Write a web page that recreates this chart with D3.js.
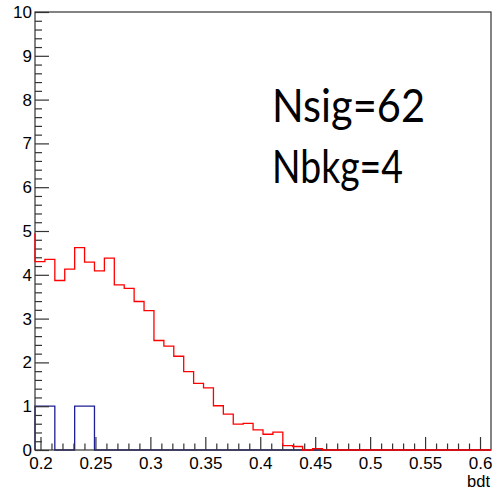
<!DOCTYPE html>
<html>
<head>
<meta charset="utf-8">
<script src="https://cdn.jsdelivr.net/npm/d3@7"></script>
<style>
  html, body { margin: 0; padding: 0; background: #fff; }
  svg { display: block; }
</style>
</head>
<body>
<svg id="chart" width="497" height="493"></svg>
<script>
// ---- data ----
const xMin = 0.195, xMax = 0.61, nBins = 46;
const sigValues = [4.30, 4.35, 3.87, 4.13, 4.62, 4.29, 4.09, 4.38, 3.77, 3.69,
                   3.39, 3.18, 2.50, 2.37, 2.14, 1.79, 1.52, 1.42, 1.01, 0.82,
                   0.59, 0.61, 0.46, 0.36, 0.41, 0.10, 0.08, 0.00, 0.03, 0,
                   0, 0, 0, 0, 0, 0, 0, 0, 0, 0,
                   0, 0, 0, 0, 0, 0];
const sigPrevBin = 4.95;
const bkgValues = [1, 1, 0, 0, 1, 1, 0, 0, 0, 0,
                   0, 0, 0, 0, 0, 0, 0, 0, 0, 0,
                   0, 0, 0, 0, 0, 0, 0, 0, 0, 0,
                   0, 0, 0, 0, 0, 0, 0, 0, 0, 0,
                   0, 0, 0, 0, 0, 0];
const xTicks = [0.2, 0.25, 0.3, 0.35, 0.4, 0.45, 0.5, 0.55, 0.6];
const xTickLabels = ["0.2", "0.25", "0.3", "0.35", "0.4", "0.45", "0.5", "0.55", "0.6"];
const yTicks = [0, 1, 2, 3, 4, 5, 6, 7, 8, 9, 10];
const xTitle = "bdt";
const annotations = ["Nsig=62", "Nbkg=4"];

// ---- layout ----
const L = 35, R = 491, T = 12, B = 450;
const svg = d3.select("#chart");
const x = d3.scaleLinear().domain([xMin, xMax]).range([L, R]);
const y = d3.scaleLinear().domain([0, 10]).range([B, T]);
const bw = (xMax - xMin) / nBins;

function histPoints(vals, prev) {
  const pts = [];
  if (prev !== undefined) pts.push([xMin, prev]);
  vals.forEach((v, i) => pts.push([xMin + i * bw, v]));
  pts.push([xMin + nBins * bw, vals[vals.length - 1]]);
  return pts;
}
const line = d3.line().x(d => x(d[0])).y(d => y(d[1])).curve(d3.curveStepAfter);

// blue (drawn first, under the axes)
svg.append("path")
  .attr("d", line([[xMin, 0]].concat(histPoints(bkgValues))))
  .attr("fill", "none").attr("stroke", "#1e1e96").attr("stroke-width", 1.3);

// frame
svg.append("rect").attr("x", L).attr("y", T).attr("width", R - L).attr("height", B - T)
  .attr("fill", "none").attr("stroke", "#333").attr("stroke-width", 1.2);

const axisColor = "#333";
const fontFam = "'Liberation Sans', Arial, Helvetica, sans-serif";

// y axis major
const yAx = svg.append("g").attr("transform", `translate(${L},0)`)
  .call(d3.axisLeft(y).tickValues(yTicks).tickSize(-14).tickPadding(3).tickFormat(d3.format("d")));
yAx.select(".domain").remove();
yAx.selectAll("line").attr("stroke", axisColor).attr("stroke-width", 1.2);
yAx.selectAll("text").attr("font-family", fontFam).attr("font-size", 17).attr("fill", "#000");
// y minor
const yMinor = d3.range(0, 10.0001, 0.2).filter(v => Math.abs(v - Math.round(v)) > 1e-6);
svg.append("g").attr("transform", `translate(${L},0)`)
  .call(d3.axisLeft(y).tickValues(yMinor).tickSize(-7).tickFormat(""))
  .call(g => g.select(".domain").remove())
  .selectAll("line").attr("stroke", axisColor).attr("stroke-width", 1.2);

// x axis major
const xAx = svg.append("g").attr("transform", `translate(0,${B})`)
  .call(d3.axisBottom(x).tickValues(xTicks).tickSize(-13).tickPadding(7)
    .tickFormat((d, i) => xTickLabels[i]));
xAx.select(".domain").remove();
xAx.selectAll("line").attr("stroke", axisColor).attr("stroke-width", 1.2);
xAx.selectAll("text").attr("font-family", fontFam).attr("font-size", 17).attr("fill", "#000");
// x minor
const xMinor = d3.range(0.2, 0.6001, 0.01).filter(v => Math.abs(v * 20 - Math.round(v * 20)) > 1e-6);
svg.append("g").attr("transform", `translate(0,${B})`)
  .call(d3.axisBottom(x).tickValues(xMinor).tickSize(-6.5).tickFormat(""))
  .call(g => g.select(".domain").remove())
  .selectAll("line").attr("stroke", axisColor).attr("stroke-width", 1.2);

// x title
svg.append("text").attr("x", 490).attr("y", 487).attr("text-anchor", "end")
  .attr("font-family", fontFam).attr("font-size", 16.5).text(xTitle);

// red (drawn on top)
svg.append("path")
  .attr("d", line(histPoints(sigValues, sigPrevBin)))
  .attr("fill", "none").attr("stroke", "#ff0000").attr("stroke-width", 1.3);

// annotations
svg.append("text").attr("x", 272).attr("y", 122)
  .attr("font-family", "Lato, 'Open Sans', sans-serif").attr("font-size", 47)
  .attr("textLength", 153).attr("lengthAdjust", "spacingAndGlyphs").text(annotations[0]);
svg.append("text").attr("x", 272).attr("y", 183)
  .attr("font-family", "Lato, 'Open Sans', sans-serif").attr("font-size", 47)
  .attr("textLength", 131).attr("lengthAdjust", "spacingAndGlyphs").text(annotations[1]);
</script>
</body>
</html>
